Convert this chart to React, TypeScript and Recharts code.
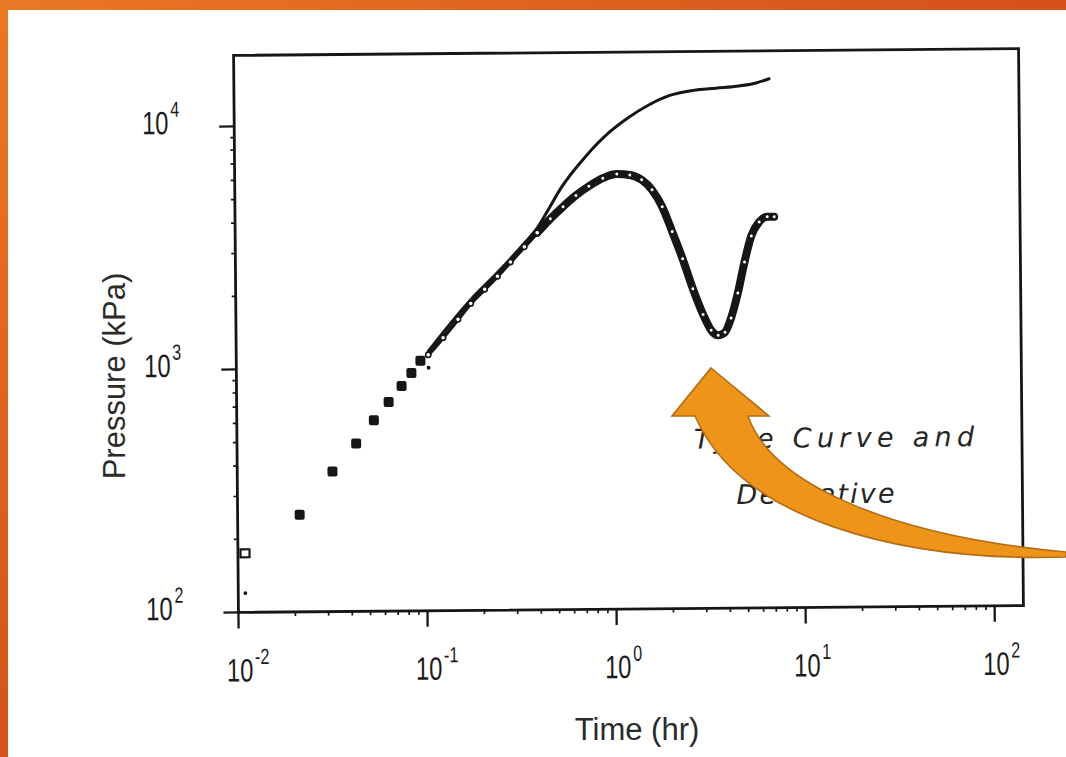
import React from "react";
import { ComposedChart, XAxis, YAxis, Line, Scatter, ReferenceArea } from "recharts";

const INK = "#161616";

// early drawdown readings, filled squares (hr, kPa)
const squareTimes = [0.0213, 0.0319, 0.0427, 0.0531, 0.0637, 0.0747, 0.0843, 0.0942];
const squarePressures = [251, 377, 491, 611, 725, 843, 953, 1069];

// first reading (open square) and two stray marks
const openTimes = [0.0109];
const openPressures = [175];
const markTimes = [0.0109, 0.104];
const markPressures = [120, 1000];

// type curve
const curveTimes = [0.1037, 0.175, 0.243, 0.338, 0.396, 0.46, 0.525, 0.728, 0.964, 1.23, 1.57, 2.0, 2.69, 3.55, 4.7, 5.78, 6.78];
const curvePressures = [1170, 1900, 2450, 3230, 3720, 4500, 5350, 7380, 9180, 10590, 11870, 12910, 13550, 13810, 14070, 14460, 15030];

// pressure derivative: unit-slope part (drawn as rings) and the hump / valley after it
const derivEarlyTimes = [0.1037, 0.1245, 0.1496, 0.175, 0.2076, 0.243, 0.285, 0.338, 0.396];
const derivEarlyValues = [1130, 1328, 1578, 1833, 2094, 2366, 2704, 3120, 3560];
const derivLateTimes = [
  0.396, 0.465, 0.544, 0.637, 0.746, 0.885, 1.05, 1.23, 1.42, 1.61, 1.82, 2.05, 2.32, 2.62, 2.96, 3.26, 3.55, 3.86,
  4.16, 4.53, 4.93, 5.37, 5.92, 6.53, 7.11,
];
const derivLateValues = [
  3560, 4060, 4550, 5055, 5510, 5940, 6170, 6110, 5830, 5300, 4510, 3560, 2750, 2070, 1620, 1394, 1328, 1367,
  1561, 1977, 2653, 3395, 3875, 4063, 4063,
];

// axes
const xDomain = [0.01, 142];
const yDomain = [100, 19600];
const xDecades = [0.01, 0.1, 1, 10, 100];
const xExponents = ["-2", "-1", "0", "1", "2"];
const yDecades = [100, 1000, 10000];
const yExponents = ["2", "3", "4"];
const minorSteps = [2, 3, 4, 5, 6, 7, 8, 9];

const pairs = (ts: number[], ps: number[]) => ts.map((t, i) => ({ t, p: ps[i] }));

const squares = pairs(squareTimes, squarePressures);
const openSquares = pairs(openTimes, openPressures);
const marks = pairs(markTimes, markPressures);
const typeCurve = pairs(curveTimes, curvePressures);
const derivEarly = pairs(derivEarlyTimes, derivEarlyValues);
const derivLate = pairs(derivLateTimes, derivLateValues);

const withMinors = (decades: number[]) =>
  [...decades, ...decades.slice(0, -1).flatMap((d) => minorSteps.map((m) => d * m))].sort((a, b) => a - b);
const xTicks = withMinors(xDecades);
const yTicks = withMinors(yDecades);

const digitFont = "'Liberation Sans', Arial, sans-serif";

// "10" with a raised exponent, in tall narrow lettering
function Power({ x, y, exp, anchor }: { x: number; y: number; exp: string; anchor: "start" | "end" }) {
  return (
    <text
      transform={`translate(${x},${y}) scale(0.85,1.15)`}
      textAnchor={anchor}
      fontFamily={digitFont}
      fontSize={28}
      fill="#1c1c1c"
    >
      <tspan>10</tspan>
      <tspan dx={2} dy={-15} fontSize={19}>
        {exp}
      </tspan>
    </text>
  );
}

function XTick(props: any) {
  const { x, y, payload } = props;
  const i = xDecades.indexOf(payload.value);
  if (i < 0) return <line x1={x} x2={x} y1={y} y2={y + 4} stroke={INK} strokeWidth={1.7} />;
  return (
    <g>
      <line x1={x} x2={x} y1={y} y2={y + 16} stroke={INK} strokeWidth={2.3} />
      <Power x={x - 12} y={y + 69} exp={xExponents[i]} anchor="start" />
    </g>
  );
}

function YTick(props: any) {
  const { x, y, payload } = props;
  const i = yDecades.indexOf(payload.value);
  if (i < 0) return <line x1={x - 4} x2={x} y1={y} y2={y} stroke={INK} strokeWidth={1.7} />;
  return (
    <g>
      <line x1={x - 15} x2={x} y1={y} y2={y} stroke={INK} strokeWidth={2.3} />
      <Power x={x - 55} y={y + 7} exp={yExponents[i]} anchor="end" />
    </g>
  );
}

const FilledSquare = (p: any) => <rect x={p.cx - 5} y={p.cy - 5} width={10} height={10} rx={2} fill={INK} />;
const OpenSquare = (p: any) => (
  <rect x={p.cx - 4.5} y={p.cy - 4} width={9} height={8} fill="#fff" stroke={INK} strokeWidth={2.2} />
);
const SmallMark = (p: any) => <circle cx={p.cx} cy={p.cy} r={1.9} fill={INK} />;
const Speck = (p: any) => <circle key={p.index} cx={p.cx} cy={p.cy} r={1.5} fill="#fff" />;
const Ring = (p: any) => (
  <circle key={p.index} cx={p.cx} cy={p.cy} r={2.6} fill="#fff" stroke={INK} strokeWidth={1.6} />
);

function Frame() {
  return (
    <div
      style={{
        position: "absolute",
        left: 0,
        top: 0,
        width: 1066,
        height: 757,
        background: "linear-gradient(90deg, #ea7824, #d4501a)",
        overflow: "hidden",
      }}
    >
      <div
        style={{
          position: "absolute",
          left: 0,
          top: 0,
          width: 8,
          height: 757,
          background: "linear-gradient(180deg, #ea7824, #d5521a)",
        }}
      />
      <div style={{ position: "absolute", left: 8, top: 10, right: 0, bottom: 0, background: "#fff" }} />
    </div>
  );
}

export default function App() {
  return (
    <div style={{ position: "absolute", left: 0, top: 0, width: 1066, height: 757, overflow: "hidden" }}>
      <Frame />
      {/* the scanned plot sits slightly skewed on the slide */}
      <div
        style={{
          position: "absolute",
          left: 0,
          top: 0,
          width: 1066,
          height: 757,
          transform: "rotate(-0.5deg)",
          transformOrigin: "628px 330px",
        }}
      >
        <ComposedChart width={1066} height={757} margin={{ top: 52, right: 45, bottom: 98, left: 136 }}>
          <XAxis
            dataKey="t"
            type="number"
            scale="log"
            domain={xDomain}
            allowDataOverflow
            ticks={xTicks}
            interval={0}
            tick={<XTick />}
            tickLine={false}
            axisLine={false}
            tickSize={0}
            tickMargin={0}
            height={50}
          />
          <YAxis
            dataKey="p"
            type="number"
            scale="log"
            domain={yDomain}
            allowDataOverflow
            ticks={yTicks}
            interval={0}
            tick={<YTick />}
            tickLine={false}
            axisLine={false}
            tickSize={0}
            tickMargin={0}
            width={100}
          />
          <ReferenceArea
            x1={xDomain[0]}
            x2={xDomain[1]}
            y1={yDomain[0]}
            y2={yDomain[1]}
            fill="none"
            stroke={INK}
            strokeWidth={2.8}
          />
          <Line
            data={derivEarly}
            dataKey="p"
            type="monotone"
            stroke={INK}
            strokeWidth={4}
            strokeLinecap="round"
            dot={Ring}
            activeDot={false}
            isAnimationActive={false}
          />
          <Line
            data={derivLate}
            dataKey="p"
            type="monotone"
            stroke={INK}
            strokeWidth={8}
            strokeLinejoin="round"
            strokeLinecap="round"
            dot={Speck}
            activeDot={false}
            isAnimationActive={false}
          />
          <Line
            data={typeCurve}
            dataKey="p"
            type="monotone"
            stroke={INK}
            strokeWidth={3}
            strokeLinecap="round"
            dot={false}
            activeDot={false}
            isAnimationActive={false}
          />
          <Scatter data={squares} dataKey="p" shape={FilledSquare} isAnimationActive={false} />
          <Scatter data={openSquares} dataKey="p" shape={OpenSquare} isAnimationActive={false} />
          <Scatter data={marks} dataKey="p" shape={SmallMark} isAnimationActive={false} />
        </ComposedChart>
        <svg width={1066} height={757} style={{ position: "absolute", left: 0, top: 0, pointerEvents: "none" }}>
          <g fontFamily="'DejaVu Sans', sans-serif" fontStyle="italic" fontWeight={300} fontSize={27} fill="#262626">
            <text x={693} y={449} textLength={280} lengthAdjust="spacing">
              Type Curve and
            </text>
            <text x={735} y={505} textLength={158} lengthAdjust="spacing">
              Derivative
            </text>
          </g>
        </svg>
      </div>
      <svg width={1066} height={757} style={{ position: "absolute", left: 0, top: 0, pointerEvents: "none" }}>
        <g fontFamily="'Liberation Sans', Arial, sans-serif" fontSize={31} fill="#2b2b2b">
          <text x={637} y={740} textAnchor="middle">
            Time (hr)
          </text>
          <text transform="translate(125,376) rotate(-90)" textAnchor="middle">
            Pressure (kPa)
          </text>
        </g>
        <path
          d="M711 368 L769 416 L748 416 C770 480 880 535 1066 552 L1066 557 C900 562 740 520 695 416 L672 416 Z"
          fill="#ee9519"
          stroke="#b46d14"
          strokeWidth={1.6}
          strokeLinejoin="miter"
        />
      </svg>
    </div>
  );
}
